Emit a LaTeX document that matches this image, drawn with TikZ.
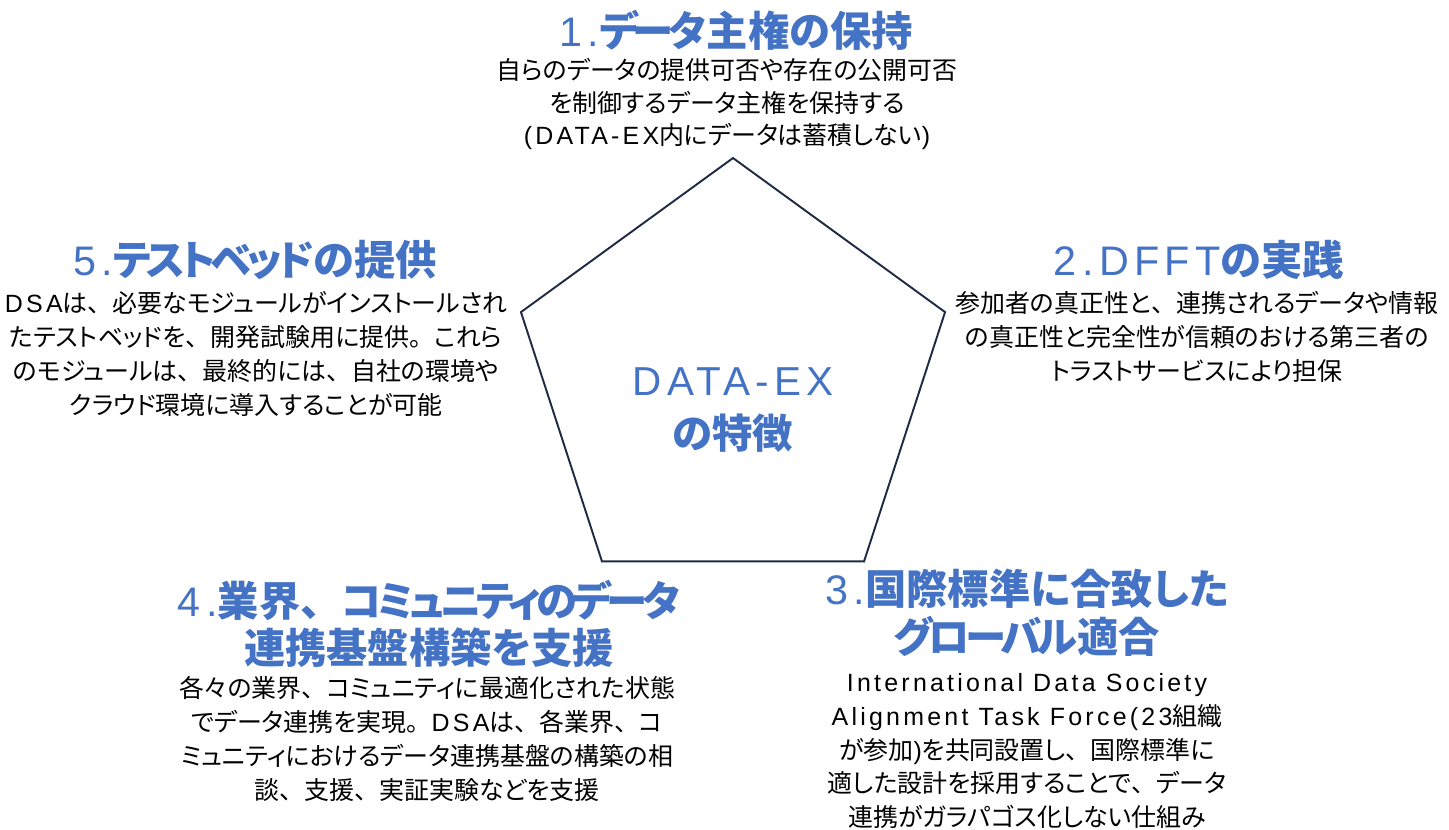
\documentclass[tikz,border=0pt]{standalone}
\usepackage{fontspec}
\setmainfont{Liberation Sans}
\newfontfamily\jp{Noto Sans CJK JP}[RawFeature=+palt]
\newfontfamily\jpf{Noto Sans CJK JP}
\newfontfamily\lat{Liberation Sans}[LetterSpace=13]
\usetikzlibrary{shapes.geometric}
\definecolor{featblue}{RGB}{68,114,196}
\definecolor{edgenavy}{RGB}{31,42,68}
%latin words inside the japanese text
\newcommand{\la}[1]{{\lat\mdseries #1}}
%full width punctuation, and tighter katakana for the headings
\newcommand{\ten}{{\jpf 、}}
\newcommand{\maru}{{\jpf 。}}
\newcommand{\kn}[1]{{\addfontfeature{LetterSpace=-11}#1}}

\begin{document}
\begin{tikzpicture}[x=0.02cm,y=-0.02cm]
\useasboundingbox (0,0) rectangle (1449,830);

%the pentagon in the middle, no text in it
\node (p) [regular polygon, regular polygon sides=5, minimum size=8.92cm,
           inner sep=0pt, draw=edgenavy, line width=1.1pt] at (733,381) {};
\node (c) [align=center, text=featblue, font=\jp\bfseries\fontsize{23}{30}\selectfont]
    at (733,410) {\la{DATA-EX}\\の特徴};

%the blue headings
\begin{scope}[every node/.style={align=center,text=featblue,
              font=\jp\bfseries\fontsize{23.5}{27}\selectfont}]
    \node (1) at (736,30) {\la{1.}\kn{データ}主権の保持};
    \node (2) at (1199,260) {\la{2.DFFT}の実践};
    \node (3) at (1027,613) {\la{3.}国際標準に合致した\\\kn{グローバル}適合};
    \node (4) at (429,624) {\la{4.}業界\ten\kn{コミュニティのデータ}\\連携基盤構築を支援};
    \node (5) at (255,260) {\la{5.}\kn{テストベッド}の提供};
\end{scope}

%the black text under each heading
\begin{scope}[every node/.style={align=center,text=black,
              font=\jp\fontsize{14.2}{19.2}\selectfont}]
    \node (b1) [font=\jp\fontsize{14.2}{18.4}\selectfont] at (727,104)
        {自らのデータの提供可否や存在の公開可否\\を制御するデータ主権を保持する\\\la{(DATA-EX}内にデータは蓄積しない\la{)}};
    \node (b2) at (1197,337)
        {参加者の真正性と\ten 連携されるデータや情報\\の真正性と完全性が信頼のおける第三者の\\トラストサービスにより担保};
    \node (b3) at (1027,751)
        {\la{International Data Society}\\\la{Alignment Task Force(23}組織\\が参加\la{)}を共同設置し\ten 国際標準に\\適した設計を採用することで\ten データ\\連携がガラパゴス化しない仕組み};
    \node (b4) at (427,739)
        {各々の業界\ten コミュニティに最適化された状態\\でデータ連携を実現\maru\la{DSA}は\ten 各業界\ten コ\\ミュニティにおけるデータ連携基盤の構築の相\\談\ten 支援\ten 実証実験などを支援};
    \node (b5) at (256,354)
        {\la{DSA}は\ten 必要なモジュールがインストールされ\\たテストベッドを\ten 開発試験用に提供\maru これら\\のモジュールは\ten 最終的には\ten 自社の環境や\\クラウド環境に導入することが可能};
\end{scope}
\end{tikzpicture}
\end{document}
